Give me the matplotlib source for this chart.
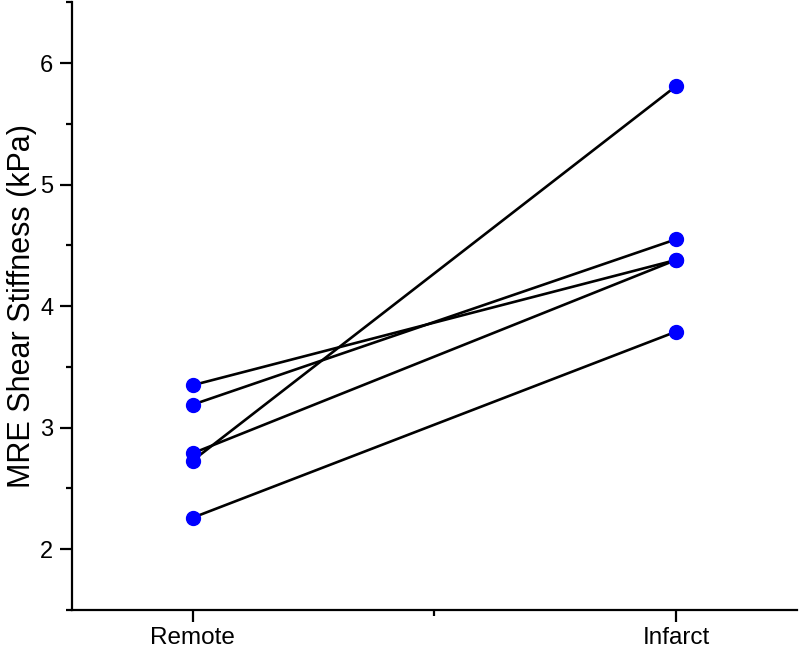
import matplotlib

matplotlib.use("Agg")
import matplotlib.pyplot as plt
from matplotlib.ticker import MultipleLocator

plt.rcParams["font.family"] = ["Liberation Sans", "DejaVu Sans"]

GROUPS = ["Remote", "Infarct"]
REMOTE = [3.35, 3.19, 2.79, 2.73, 2.26]
INFARCT = [4.38, 4.55, 4.38, 5.81, 3.79]

POINT_COLOR = "#0000ff"
LINE_COLOR = "black"

fig = plt.figure(figsize=(8, 6.53), dpi=100)
ax = fig.add_axes([0.09, 0.0658, 0.906, 0.9307])

xs = [1, 2]
for before, after in zip(REMOTE, INFARCT):
    ax.plot(xs, [before, after], color=LINE_COLOR, linewidth=1.9, zorder=2)
for x, values in zip(xs, [REMOTE, INFARCT]):
    ax.plot([x] * len(values), values, linestyle="none", marker="o",
            markersize=10, color=POINT_COLOR, zorder=3)

ax.set_xlim(0.75, 2.25)
ax.set_ylim(1.5, 6.5)
ax.set_xticks(xs)
ax.set_xticklabels(GROUPS)
ax.xaxis.set_minor_locator(MultipleLocator(0.5))
ax.yaxis.set_major_locator(MultipleLocator(1))
ax.yaxis.set_minor_locator(MultipleLocator(0.5))

for side in ["top", "right"]:
    ax.spines[side].set_visible(False)
for side in ["left", "bottom"]:
    ax.spines[side].set_linewidth(1.6)

ax.tick_params(which="major", direction="out", length=8.5, width=1.6, labelsize=17)
ax.tick_params(which="minor", direction="out", length=4, width=1.6)
ax.tick_params(axis="y", which="major", pad=5)
ax.tick_params(axis="x", which="major", pad=4, labelsize=17.5)

ax.set_ylabel("MRE Shear Stiffness (kPa)", fontsize=22, labelpad=2)

fig.savefig("out.png", dpi=100)
